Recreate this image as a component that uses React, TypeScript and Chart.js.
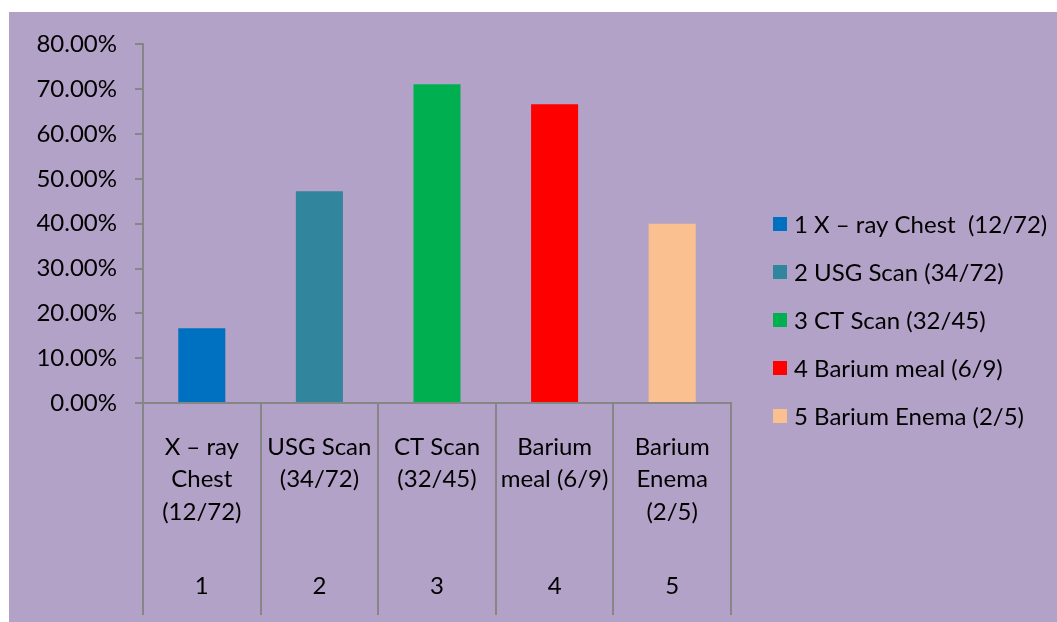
import React, { useEffect, useRef } from "react";
import { Chart, registerables } from "chart.js";

Chart.register(...registerables);

const categoryLines: string[][] = [
  ["X – ray", "Chest", "(12/72)"],
  ["USG Scan", "(34/72)"],
  ["CT Scan", "(32/45)"],
  ["Barium", "meal (6/9)"],
  ["Barium", "Enema", "(2/5)"],
];
const categoryNumbers: string[] = ["1", "2", "3", "4", "5"];
const values: number[] = [16.67, 47.22, 71.11, 66.67, 40.0];
const legendLabels: string[] = [
  "1 X – ray Chest  (12/72)",
  "2 USG Scan (34/72)",
  "3 CT Scan (32/45)",
  "4 Barium meal (6/9)",
  "5 Barium Enema (2/5)",
];
const barColors: string[] = ["#0070C0", "#31859C", "#00B050", "#FF0000", "#FAC090"];
const yTicksMax = 80;
const yTicksStep = 10;

const FONT = "Lato";
const FONT_SIZE = 24;
const AXIS_GRAY = "#868686";

const multiLevelLabels = {
  id: "multiLevelLabels",
  afterDraw(chart: any) {
    const ctx = chart.ctx;
    const xs = chart.scales.x;
    ctx.save();
    ctx.fillStyle = "#000";
    ctx.font = `${FONT_SIZE}px ${FONT}`;
    ctx.textAlign = "center";
    ctx.textBaseline = "middle";
    categoryLines.forEach((lines, i) => {
      const x = xs.getPixelForValue(i);
      lines.forEach((ln, j) => {
        ctx.fillText(ln, x, xs.top + 44 + j * 32.5);
      });
      ctx.fillText(categoryNumbers[i], x, xs.top + 183);
    });
    ctx.restore();
  },
};

const sideLegend = {
  id: "sideLegend",
  afterDraw(chart: any) {
    const ctx = chart.ctx;
    const area = chart.chartArea;
    ctx.save();
    ctx.font = `${FONT_SIZE}px ${FONT}`;
    ctx.textAlign = "left";
    ctx.textBaseline = "middle";
    const x0 = area.right + 42;
    const yc = chart.height / 2 + 3;
    const step = 48;
    legendLabels.forEach((t, i) => {
      const y = yc + (i - 2) * step;
      ctx.fillStyle = barColors[i];
      ctx.fillRect(x0, y - 7, 14, 14);
      ctx.fillStyle = "#000";
      ctx.fillText(t, x0 + 21, y + 1);
    });
    ctx.restore();
  },
};

export default function App() {
  const ref = useRef<HTMLCanvasElement | null>(null);
  useEffect(() => {
    if (!ref.current) return;
    const chart = new Chart(ref.current, {
      type: "bar",
      data: {
        labels: categoryNumbers,
        datasets: [
          {
            data: values,
            backgroundColor: barColors,
            borderWidth: 0,
            categoryPercentage: 0.4,
            barPercentage: 1,
          },
        ],
      },
      options: {
        animation: false,
        responsive: true,
        maintainAspectRatio: false,
        layout: { padding: { top: 30, left: 0, right: 326, bottom: 7 } },
        plugins: {
          legend: { display: false },
          tooltip: { enabled: false },
        },
        scales: {
          x: {
            offset: true,
            ticks: { display: false },
            grid: {
              offset: true,
              drawOnChartArea: false,
              drawTicks: true,
              tickLength: 212,
              color: AXIS_GRAY,
              lineWidth: 2,
            },
            border: { display: true, color: AXIS_GRAY, width: 2 },
            afterFit: (s: any) => {
              s.height = 212;
            },
          },
          y: {
            min: 0,
            max: yTicksMax,
            ticks: {
              stepSize: yTicksStep,
              padding: 18,
              color: "#000",
              font: { family: FONT, size: FONT_SIZE },
              callback: (v: any) => Number(v).toFixed(2) + "%",
            },
            grid: {
              drawOnChartArea: false,
              drawTicks: true,
              tickLength: 8,
              color: AXIS_GRAY,
              lineWidth: 2,
            },
            border: { display: true, color: AXIS_GRAY, width: 2 },
            afterFit: (s: any) => {
              s.width = 134;
            },
          },
        },
      },
      plugins: [multiLevelLabels, sideLegend],
    });
    return () => chart.destroy();
  }, []);
  return (
    <div
      style={{
        position: "fixed",
        left: 9,
        top: 12,
        width: 1048,
        height: 610,
        background: "#B3A2C7",
      }}
    >
      <canvas ref={ref} />
    </div>
  );
}
